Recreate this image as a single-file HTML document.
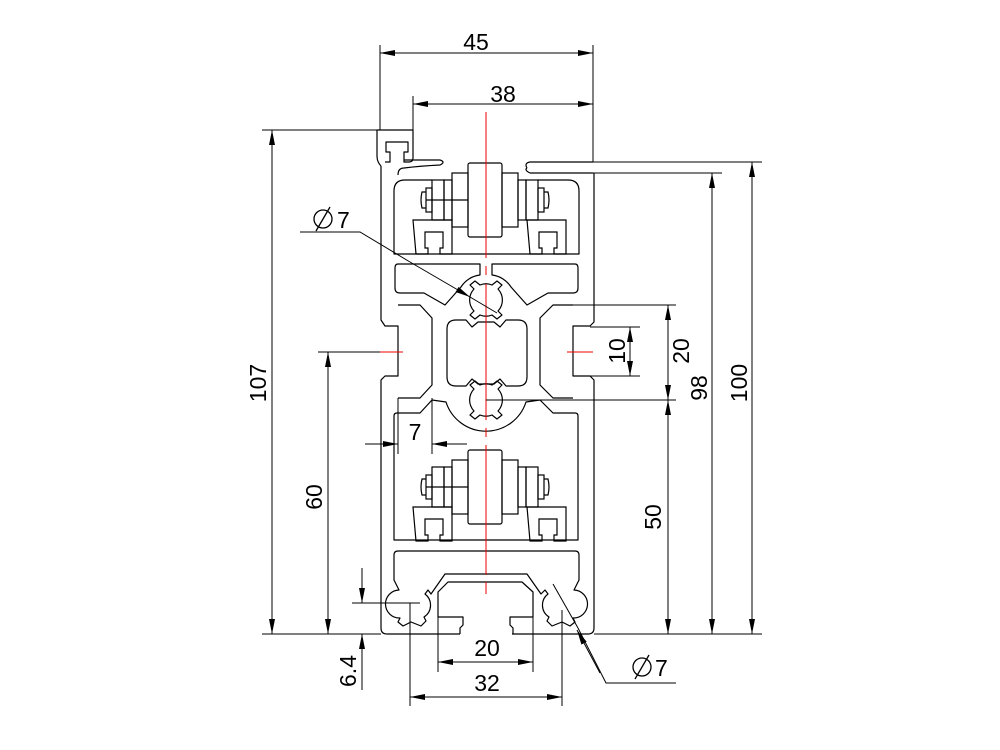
<!DOCTYPE html>
<html><head><meta charset="utf-8"><style>
html,body{margin:0;padding:0;background:#fff;}
svg{display:block;}
text{font-family:"Liberation Sans",sans-serif;font-size:23px;fill:#000;}
</style></head><body>
<svg width="1000" height="750" viewBox="0 0 1000 750" xmlns="http://www.w3.org/2000/svg">
<defs>
<marker id="a" viewBox="0 0 15 6" refX="15" refY="3" markerWidth="15" markerHeight="6" markerUnits="userSpaceOnUse" orient="auto-start-reverse"><path d="M0,0L15,3L0,6z" fill="#000"/></marker>
<g id="roller" fill="none" stroke="#000" stroke-width="1.2">
<rect x="468" y="163" width="34" height="74" rx="2"/>
<rect x="452" y="173" width="16" height="54"/>
<rect x="502" y="173" width="16" height="54"/>
<rect x="444" y="180" width="8" height="40"/>
<rect x="518" y="180" width="8" height="40"/>
<rect x="432" y="180" width="12" height="40"/>
<rect x="526" y="180" width="12" height="40"/>
<rect x="426" y="188" width="6" height="24"/>
<rect x="538" y="188" width="6" height="24"/>
<path d="M426,192 H422 Q420,200 422,208 H426 M544,192 H548 Q550,200 548,208 H544"/>
<line x1="426" y1="200" x2="468" y2="200"/>
<path d="M413,220 H452 V254 H440 V248 H443 V232 H425 V248 H428 V254 H416 Z"/>
<path d="M527,220 H566 V254 H554 V248 H557 V232 H539 V248 H542 V254 H530 Z"/>
</g>
<g id="dia" fill="none" stroke="#000" stroke-width="1.3"><circle cx="0" cy="0" r="9"/><line x1="-7" y1="12" x2="7" y2="-12"/></g>
</defs>
<g fill="none" stroke="#000" stroke-width="1.2" stroke-linejoin="round">
<path d="M381,166 Q377,162 377,156 V130 H413 V158 Q413,162 409,162 H404 V152 H408 V142 H386 V152 H390 V162 H385"/>
<path d="M398,175 Q398,168 404,168 Q420,166 440,165 Q446,162 440,160 H404"/>
<path d="M527,168 Q524,163 530,162 H593 M530,173 Q524,170 527,168 M530,173 H593"/>
<path d="M381,166 V320 L385,326 H398 V376 H385 L381,380 V628 Q381,634 387,634 H460"/>
<path d="M512,634 H588 Q594,634 594,628 V380 L590,376 H573 V326 H590 L594,322 V173"/>
<path d="M432,180 H405 Q394,180 394,191 V254 H579 V191 Q579,180 568,180 H538"/>
<path d="M398,264 H480 V275 A26,26 0 0 0 461,287 L445,305 L424,293 H400 Q395,293 395,288 V268 Q395,264 398,264 Z"/>
<path d="M575,264 H492 V275 A26,26 0 0 1 511,287 L527,305 L548,293 H573 Q578,293 578,288 V268 Q578,264 575,264 Z"/>
<path d="M474,289 L470,285 L475,281 L480,285 A16,16 0 0 1 492,285 L497,281 L502,285 L498,289 A16,16 0 0 1 498,311 L502,315 L497,319 L492,315 A16,16 0 0 1 480,315 L475,319 L470,315 L474,311 A16,16 0 0 1 474,289 Z"/>
<path d="M474,389 L470,385 L475,381 L480,385 A16,16 0 0 1 492,385 L497,381 L502,385 L498,389 A16,16 0 0 1 498,411 L502,415 L497,419 L492,415 A16,16 0 0 1 480,415 L475,419 L470,415 L474,411 A16,16 0 0 1 474,389 Z"/>
<path d="M456,320 H466 L472,327 L478,322 H494 L500,327 L506,320 H518 Q527,320 527,329 V377 Q527,386 518,386 H506 L500,379 L494,384 H478 L472,379 L466,386 H456 Q447,386 447,377 V329 Q447,320 456,320 Z"/>
<path d="M398,305 H420 L432,318 V385 L420,398 H398"/>
<path d="M573,305 H553 L540,318 V385 L553,398 H573"/>
<path d="M394,540 V416 Q394,413 397,413 H420 L432,400 L446,402 A42,42 0 0 0 526,402 L540,400 L553,413 H575 Q578,413 578,416 V540 Z"/>
<path d="M398,551 H575 Q579,551 579,555 V580 L574,590 A14,14 0 0 1 573,618 L575,622 L570,626 L562,622 L552,626 L547,621 L549,617 A14,14 0 0 1 548,594 L545,590 L541,594 L527,574 H445 L431,594 L428,590 L425,594 A14,14 0 0 1 424,617 L426,621 L421,626 L411,622 L403,626 L398,622 L400,618 A14,14 0 0 1 399,590 L394,580 V555 Q394,551 398,551 Z"/>
<path d="M460,634 V628 L463,625 V617 H438 V592 L448,582 H522 L533,592 V617 H510 V625 L513,628 V634"/>
</g>
<use href="#roller"/>
<use href="#roller" transform="translate(0,287)"/>
<g stroke="#e00" stroke-width="1">
<line x1="486" y1="112" x2="486" y2="258"/>
<line x1="486" y1="266" x2="486" y2="275"/>
<line x1="486" y1="284" x2="486" y2="420"/>
<line x1="486" y1="428" x2="486" y2="437"/>
<line x1="486" y1="445" x2="486" y2="575"/>
<line x1="486" y1="582" x2="486" y2="594"/>
<line x1="380" y1="352" x2="403" y2="352"/>
<line x1="567" y1="352" x2="593" y2="352"/>
</g>
<g stroke="#000" stroke-width="1" fill="none">
<line x1="380" y1="45" x2="380" y2="130"/><line x1="593" y1="45" x2="593" y2="162"/>
<line x1="380" y1="53" x2="593" y2="53" marker-start="url(#a)" marker-end="url(#a)"/>
<line x1="413" y1="96" x2="413" y2="130"/>
<line x1="413" y1="104" x2="593" y2="104" marker-start="url(#a)" marker-end="url(#a)"/>
<line x1="262" y1="130" x2="377" y2="130"/><line x1="262" y1="634" x2="381" y2="634"/>
<line x1="272" y1="130" x2="272" y2="634" marker-start="url(#a)" marker-end="url(#a)"/>
<line x1="318" y1="352" x2="380" y2="352"/>
<line x1="328" y1="352" x2="328" y2="634" marker-start="url(#a)" marker-end="url(#a)"/>
<line x1="593" y1="162" x2="762" y2="162"/><line x1="593" y1="173" x2="722" y2="173"/>
<line x1="594" y1="634" x2="762" y2="634"/>
<line x1="486" y1="400" x2="676" y2="400"/><line x1="553" y1="305" x2="676" y2="305"/>
<line x1="590" y1="327" x2="640" y2="327"/><line x1="590" y1="376" x2="640" y2="376"/>
<line x1="668" y1="305" x2="668" y2="400" marker-start="url(#a)" marker-end="url(#a)"/>
<line x1="630" y1="327" x2="630" y2="376" marker-start="url(#a)" marker-end="url(#a)"/>
<line x1="668" y1="400" x2="668" y2="634" marker-start="url(#a)" marker-end="url(#a)"/>
<line x1="712" y1="173" x2="712" y2="634" marker-start="url(#a)" marker-end="url(#a)"/>
<line x1="752" y1="162" x2="752" y2="634" marker-start="url(#a)" marker-end="url(#a)"/>
<line x1="398" y1="398" x2="398" y2="454"/><line x1="432" y1="398" x2="432" y2="454"/>
<line x1="365" y1="444" x2="398" y2="444" marker-end="url(#a)"/>
<line x1="467" y1="444" x2="432" y2="444" marker-end="url(#a)"/>
<line x1="352" y1="603" x2="420" y2="603"/>
<line x1="362" y1="568" x2="362" y2="603" marker-end="url(#a)"/>
<line x1="362" y1="690" x2="362" y2="634" marker-end="url(#a)"/>
<line x1="438" y1="600" x2="438" y2="672"/><line x1="533" y1="600" x2="533" y2="672"/>
<line x1="438" y1="662" x2="533" y2="662" marker-start="url(#a)" marker-end="url(#a)"/>
<line x1="410" y1="603" x2="410" y2="706"/><line x1="562" y1="610" x2="562" y2="706"/>
<line x1="410" y1="697" x2="562" y2="697" marker-start="url(#a)" marker-end="url(#a)"/>
<polyline points="300,232 360,232 410,262"/>
<line x1="410" y1="262" x2="470" y2="297" marker-end="url(#a)"/>
<line x1="470" y1="297" x2="497" y2="313"/>
<line x1="553" y1="584" x2="578" y2="628"/>
<polyline points="578,628 606,683 676,683"/>
<line x1="600" y1="673" x2="577" y2="630" marker-end="url(#a)"/>
</g>
<use href="#dia" x="323" y="219"/>
<use href="#dia" x="642" y="667"/>
<text x="476" y="50" text-anchor="middle">45</text>
<text x="503" y="102" text-anchor="middle">38</text>
<text x="0" y="0" text-anchor="middle" transform="translate(266,383) rotate(-90)">107</text>
<text x="0" y="0" text-anchor="middle" transform="translate(322,497) rotate(-90)">60</text>
<text x="0" y="0" text-anchor="middle" transform="translate(661,517) rotate(-90)">50</text>
<text x="0" y="0" text-anchor="middle" transform="translate(707,388) rotate(-90)">98</text>
<text x="0" y="0" text-anchor="middle" transform="translate(747,383) rotate(-90)">100</text>
<text x="0" y="0" text-anchor="middle" transform="translate(689,351) rotate(-90)">20</text>
<text x="0" y="0" text-anchor="middle" transform="translate(625,351) rotate(-90)">10</text>
<text x="0" y="0" text-anchor="middle" transform="translate(356,671) rotate(-90)">6.4</text>
<text x="415" y="440" text-anchor="middle">7</text>
<text x="487" y="656" text-anchor="middle">20</text>
<text x="487" y="691" text-anchor="middle">32</text>
<text x="337" y="228">7</text>
<text x="655" y="676">7</text>
</svg>
</body></html>
